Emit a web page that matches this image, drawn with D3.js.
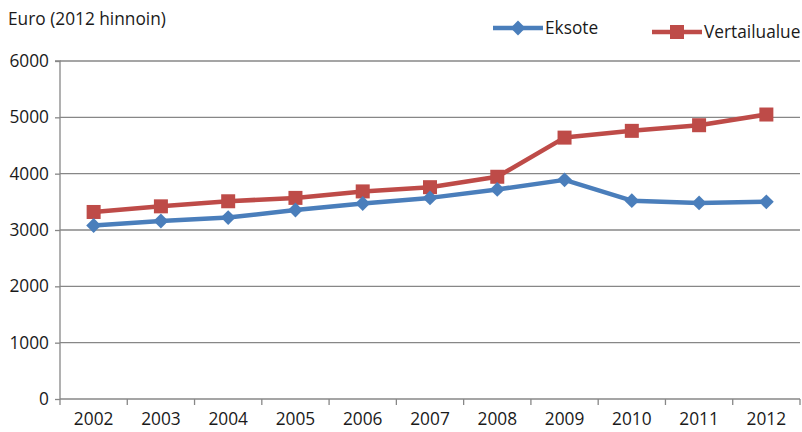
<!DOCTYPE html>
<html><head><meta charset="utf-8">
<script src="https://cdn.jsdelivr.net/npm/d3@7"></script>
<style>body{margin:0;background:#fff;} text{font-family:"Open Sans","Noto Sans",sans-serif;}</style>
</head><body>
<svg id="c" width="802" height="432"></svg>
<script>
const years = ["2002","2003","2004","2005","2006","2007","2008","2009","2010","2011","2012"];
const eksote = [3080,3160,3220,3355,3470,3570,3720,3890,3520,3480,3500];
const vertailualue = [3320,3420,3510,3570,3685,3760,3945,4640,4760,4860,5050];
const yTicks = [0,1000,2000,3000,4000,5000,6000];
const seriesNames = ["Eksote","Vertailualue"];
const colors = ["#4A7EBB","#BE4B48"];

const svg = d3.select("#c");
const L=60, R=800, T=61, B=399;
const FS=17.3;
const x = d3.scaleBand().domain(years).range([L,R]);
const y = d3.scaleLinear().domain([0,6000]).range([B,T]);
const grey="#878787";

svg.append("g").selectAll("line").data(yTicks.filter(d=>d>0)).join("line")
 .attr("x1",L).attr("x2",R).attr("y1",d=>y(d)).attr("y2",d=>y(d))
 .attr("stroke",grey).attr("stroke-width",1.3);

const ya = svg.append("g").attr("transform",`translate(${L},0)`)
 .call(d3.axisLeft(y).tickValues(yTicks).tickFormat(d3.format("d")).tickSize(5).tickPadding(6));
ya.select(".domain").attr("stroke",grey).attr("stroke-width",1.3).attr("d",`M-5,${T}H0V${B}`);
ya.selectAll(".tick line").attr("stroke",grey).attr("stroke-width",1.3);
ya.selectAll("text").attr("font-size",FS).attr("fill","#1a1a1a").attr("font-family","Open Sans");

const xa = svg.append("g").attr("transform",`translate(0,${B})`)
 .call(d3.axisBottom(x).tickSize(0).tickPadding(14));
xa.select(".domain").attr("stroke",grey).attr("stroke-width",1.3).attr("d",`M${L},0H${R}`);
xa.selectAll("text").attr("font-size",FS).attr("fill","#1a1a1a").attr("font-family","Open Sans");
const boundaries = years.map(d=>x(d)).concat([R]);
xa.selectAll(".bt").data(boundaries).join("line").attr("class","bt")
 .attr("x1",d=>d).attr("x2",d=>d).attr("y1",0).attr("y2",6).attr("stroke",grey).attr("stroke-width",1.3);

svg.append("text").attr("x",8).attr("y",25).attr("font-size",FS).attr("fill","#1a1a1a").text("Euro (2012 hinnoin)");

const cx = d=>x(d)+x.bandwidth()/2;
const line = d3.line().x((d,i)=>cx(years[i])).y(d=>y(d));
const diamond = d3.symbol().type(d3.symbolDiamond2).size(140);

function drawSeries(vals, col, isSquare){
  svg.append("path").datum(vals).attr("d",line).attr("fill","none").attr("stroke",col).attr("stroke-width",4.5).attr("stroke-linejoin","round");
  const g = svg.append("g");
  if(isSquare){
    g.selectAll("rect").data(vals).join("rect")
     .attr("x",(d,i)=>cx(years[i])-7).attr("y",d=>y(d)-7).attr("width",14).attr("height",14).attr("fill",col);
  } else {
    g.selectAll("path").data(vals).join("path").attr("d",diamond)
     .attr("transform",(d,i)=>`translate(${cx(years[i])},${y(d)})`).attr("fill",col);
  }
}
drawSeries(vertailualue, colors[1], true);
drawSeries(eksote, colors[0], false);

const lg = [{x:493,y:28,tx:545},{x:652,y:32,tx:704}];
lg.forEach((p,i)=>{
  svg.append("line").attr("x1",p.x).attr("x2",p.x+50).attr("y1",p.y).attr("y2",p.y).attr("stroke",colors[i]).attr("stroke-width",4.5);
  if(i===1) svg.append("rect").attr("x",p.x+25-7).attr("y",p.y-7).attr("width",14).attr("height",14).attr("fill",colors[i]);
  else svg.append("path").attr("d",diamond).attr("transform",`translate(${p.x+25},${p.y})`).attr("fill",colors[i]);
  svg.append("text").attr("x",p.tx).attr("y",p.y+6).attr("font-size",FS).attr("fill","#1a1a1a").text(seriesNames[i]);
});
</script>
</body></html>
